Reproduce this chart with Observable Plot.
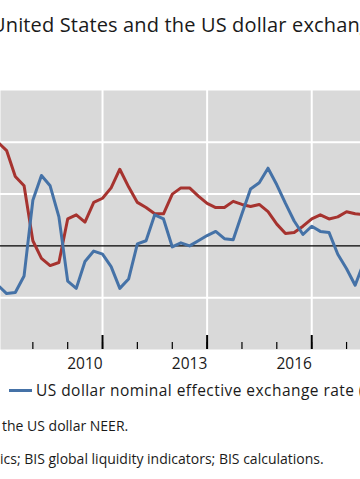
<!DOCTYPE html>
<html>
<head>
<meta charset="utf-8">
<script src="https://cdn.jsdelivr.net/npm/d3@7"></script>
<script src="https://cdn.jsdelivr.net/npm/@observablehq/plot@0.6"></script>
<style>
  html, body { margin: 0; padding: 0; background: #fff; }
  body { width: 360px; height: 479px; overflow: hidden; position: relative; font-family: "Open Sans", sans-serif; color: #1a1a1a; }
  .t { position: absolute; white-space: nowrap; line-height: 1; }
  .hid { position: absolute; right: 100%; white-space: nowrap; }
  #chart { position: absolute; left: 0; top: 90px; }
</style>
</head>
<body>
<div class="t" id="title" style="left:-9px; top:15px; font-size:20px; letter-spacing:0.15px;">United States and the US dollar exchange rate</div>
<div id="chart"></div>
<div class="t" style="left:9px; top:383px; font-size:15.5px; letter-spacing:0.45px;"><span style="display:inline-block; width:23px; height:3px; background:#4572a7; vertical-align:middle; margin-right:4px; position:relative; top:-1px;"></span>US dollar nominal effective exchange rate (lhs)</div>
<div class="t" style="left:2px; top:419px; font-size:14px;">the US dollar NEER.</div>
<div class="t" style="left:0px; top:452px; font-size:14px;"><span class="hid">statist</span>ics; BIS global liquidity indicators; BIS calculations.</div>
<script>
// Quarterly observation dates
const quarters = [
  "2008-01-01","2008-04-01","2008-07-01","2008-10-01",
  "2009-01-01","2009-04-01","2009-07-01","2009-10-01",
  "2010-01-01","2010-04-01","2010-07-01","2010-10-01",
  "2011-01-01","2011-04-01","2011-07-01","2011-10-01",
  "2012-01-01","2012-04-01","2012-07-01","2012-10-01",
  "2013-01-01","2013-04-01","2013-07-01","2013-10-01",
  "2014-01-01","2014-04-01","2014-07-01","2014-10-01",
  "2015-01-01","2015-04-01","2015-07-01","2015-10-01",
  "2016-01-01","2016-04-01","2016-07-01","2016-10-01",
  "2017-01-01","2017-04-01","2017-07-01","2017-10-01",
  "2018-01-01","2018-04-01","2018-07-01"
];
// Red series (credit growth, %)
const creditGrowth = [
  10.0, 9.2, 6.7, 5.8,
  0.5, -1.2, -1.9, -1.6,
  2.6, 3.0, 2.3, 4.2,
  4.6, 5.6, 7.4, 5.7,
  4.2, 3.7, 3.1, 3.1,
  5.0, 5.6, 5.6, 4.8,
  4.1, 3.7, 3.7, 4.3,
  4.0, 3.8, 4.0, 3.3,
  2.1, 1.2, 1.3, 1.9,
  2.6, 3.0, 2.6, 2.8,
  3.3, 3.1, 3.0
];
// Blue series (US dollar NEER, % change)
const neerChange = [
  -3.8, -4.6, -4.5, -2.9,
  4.4, 6.8, 5.8, 2.8,
  -3.4, -4.1, -1.5, -0.5,
  -0.8, -2.0, -4.1, -3.2,
  0.2, 0.5, 3.0, 2.6,
  -0.1, 0.3, 0.0, 0.5,
  1.0, 1.4, 0.7, 0.6,
  3.1, 5.5, 6.1, 7.5,
  5.9, 4.1, 2.4, 1.1,
  1.9, 1.4, 1.3, -0.8,
  -2.2, -3.8, -1.6
];
// Axis / grid definitions
const yearLabels = ["2010", "2013", "2016"];
const minorTickYears = ["2008","2009","2010","2011","2012","2013","2014","2015","2016","2017","2018"];
const majorTickYears = ["2011", "2014", "2017"];
const gridValues = [-5, 5, 10];

const parse = d3.utcParse("%Y-%m-%d");
const yearStart = y => d3.utcParse("%Y")(y);
const midYear = y => d3.utcMonth.offset(d3.utcParse("%Y")(y), 6);

const data = quarters.map((q, i) => ({date: parse(q), credit: creditGrowth[i], neer: neerChange[i]}));

const red = "#a6332f";
const blue = "#4572a7";

const chart = Plot.plot({
  width: 360,
  height: 284,
  marginTop: 0,
  marginLeft: 0,
  marginRight: 0,
  marginBottom: 25,
  x: {type: "utc", domain: [new Date(Date.UTC(2008, 0, 28)), new Date(Date.UTC(2018, 4, 27))], axis: null},
  y: {domain: [-10, 15], axis: null},
  style: {background: "transparent", fontFamily: "Open Sans, sans-serif", color: "#1a1a1a", overflow: "visible"},
  marks: [
    Plot.frame({fill: "#d9d9d9", stroke: null}),
    Plot.ruleY(gridValues, {stroke: "#fff", strokeWidth: 2}),
    Plot.ruleX(majorTickYears.map(yearStart), {stroke: "#fff", strokeWidth: 2}),
    Plot.ruleY([0], {stroke: "#000", strokeWidth: 1.2}),
    Plot.ruleX(minorTickYears.map(yearStart), {y1: -10, y2: -9.32, stroke: "#000", strokeWidth: 1.2}),
    Plot.ruleX(majorTickYears.map(yearStart), {y1: -10, y2: -8.65, stroke: "#000", strokeWidth: 2}),
    Plot.line(data, {x: "date", y: "credit", stroke: red, strokeWidth: 3, clip: true, strokeLinejoin: "round"}),
    Plot.line(data, {x: "date", y: "neer", stroke: blue, strokeWidth: 3, clip: true, strokeLinejoin: "round"}),
    Plot.text(yearLabels, {x: midYear, y: () => -10, dy: 15, text: d => d, fontSize: 15.5, fill: "#1a1a1a"})
  ]
});
document.getElementById("chart").appendChild(chart);
</script>
</body>
</html>
